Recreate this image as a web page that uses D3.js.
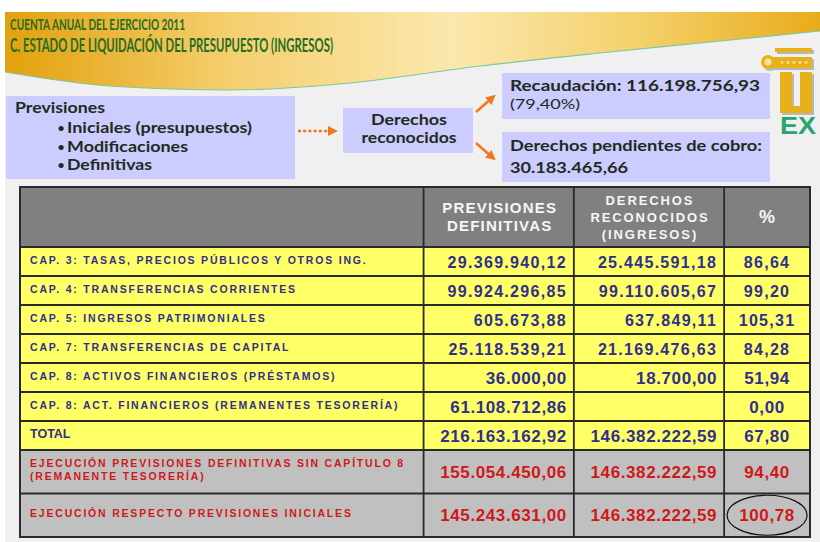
<!DOCTYPE html>
<html>
<head>
<meta charset="utf-8">
<script src="https://cdn.jsdelivr.net/npm/d3@7"></script>
<style>
  body { margin: 0; background: #fff; }
  svg { display: block; }
</style>
</head>
<body>
<svg id="chart" width="820" height="542"></svg>
<script>
// Textos de la diapositiva
const titleLines = ["CUENTA ANUAL DEL EJERCICIO 2011", "C. ESTADO DE LIQUIDACIÓN DEL PRESUPUESTO (INGRESOS)"];
const previsionItems = ["Iniciales (presupuestos)", "Modificaciones", "Definitivas"];
const recaudacion = 116198756.93;
const recaudacionPct = 79.40;
const pendientes = 30183465.66;

// Tabla
const columnHeaders = [[], ["PREVISIONES", "DEFINITIVAS"], ["DERECHOS", "RECONOCIDOS", "(INGRESOS)"], ["%"]];
const rowLabels = [
  ["CAP. 3: TASAS,  PRECIOS PÚBLICOS Y OTROS ING."],
  ["CAP. 4: TRANSFERENCIAS  CORRIENTES"],
  ["CAP. 5: INGRESOS PATRIMONIALES"],
  ["CAP. 7: TRANSFERENCIAS  DE CAPITAL"],
  ["CAP. 8: ACTIVOS  FINANCIEROS  (PRÉSTAMOS)"],
  ["CAP. 8: ACT. FINANCIEROS  (REMANENTES TESORERÍA)"],
  ["TOTAL"],
  ["EJECUCIÓN PREVISIONES DEFINITIVAS  SIN  CAPÍTULO 8", "(REMANENTE TESORERÍA)"],
  ["EJECUCIÓN RESPECTO PREVISIONES INICIALES"]
];
const rowTypes = ["cap", "cap", "cap", "cap", "cap", "cap", "total", "ejec", "ejec"];
const previsiones = [29369940.12, 99924296.85, 605673.88, 25118539.21, 36000.00, 61108712.86, 216163162.92, 155054450.06, 145243631.00];
const derechos = [25445591.18, 99110605.67, 637849.11, 21169476.63, 18700.00, null, 146382222.59, 146382222.59, 146382222.59];
const porcentajes = [86.64, 99.20, 105.31, 84.28, 51.94, 0.00, 67.80, 94.40, 100.78];
const circledRow = 8;

const es = d3.formatLocale({decimal: ",", thousands: ".", grouping: [3], currency: ["", ""]});
const fmtMoney = es.format(",.2f");
const fmtPct = es.format(".2f");

const svg = d3.select("#chart");
const defs = svg.append("defs");

// fondo de la diapositiva
svg.append("rect").attr("x", 5).attr("y", 12).attr("width", 815).attr("height", 530).attr("fill", "#f0f0f0");

// banda dorada con borde ondulado
const grad = defs.append("linearGradient").attr("id", "gold").attr("x1", 0).attr("x2", 1).attr("y1", 0).attr("y2", 0);
[["0%", "#e3a10c"], ["28%", "#f5cf70"], ["55%", "#fbe8ae"], ["78%", "#f4d06a"], ["100%", "#e8ac1a"]]
  .forEach(([o, c]) => grad.append("stop").attr("offset", o).attr("stop-color", c));

const wave = [[5, 72], [110, 86], [230, 90], [350, 83], [480, 66], [600, 53], [700, 43], [820, 31]];
const waveLine = d3.line().curve(d3.curveMonotoneX);
svg.append("path")
  .attr("d", "M5,12 L820,12 L820,31 " + waveLine(wave.slice().reverse()).replace(/^M/, "L") + " Z")
  .attr("fill", "url(#gold)");
svg.append("path").attr("d", waveLine(wave)).attr("fill", "none").attr("stroke", "#7cc8a0").attr("stroke-width", 1.2);

function fit(sel, w) {
  return sel.attr("textLength", w).attr("lengthAdjust", "spacingAndGlyphs");
}

const titleFont = "Lato, 'Open Sans', sans-serif";
fit(svg.append("text").attr("x", 10).attr("y", 30).text(titleLines[0]), 175)
  .attr("font-family", titleFont).attr("font-weight", 700).attr("font-size", 15).attr("fill", "#1f6e22");
fit(svg.append("text").attr("x", 10).attr("y", 52).text(titleLines[1]), 323)
  .attr("font-family", titleFont).attr("font-weight", 700).attr("font-size", 18).attr("fill", "#1f6e22");

// cajas lavanda
const boxFill = "#ccccff";
const boxText = "#1e2b1e";
function box(x, y, w, h) {
  svg.append("rect").attr("x", x).attr("y", y).attr("width", w).attr("height", h).attr("fill", boxFill);
}
function label(x, y, txt, w, size, weight, anchor) {
  return fit(svg.append("text").attr("x", x).attr("y", y).text(txt), w)
    .attr("font-family", titleFont).attr("font-size", size).attr("font-weight", weight || 700)
    .attr("text-anchor", anchor || "start").attr("fill", boxText);
}

box(6, 96, 289, 83);
label(15, 113, "Previsiones", 90, 15);
previsionItems.forEach((t, i) => {
  const widths = [185, 121, 85];
  svg.append("text").attr("x", 57).attr("y", 133 + i * 18.5).text("•")
    .attr("font-family", titleFont).attr("font-size", 14).attr("fill", boxText);
  label(67, 133 + i * 18.5, t, widths[i], 15);
});

box(343, 108, 130, 45);
label(409, 125, "Derechos", 76, 14.5, 700, "middle");
label(409, 143, "reconocidos", 95, 14.5, 700, "middle");

box(502, 73, 268, 46);
label(510, 91, "Recaudación: " + fmtMoney(recaudacion), 250, 16);
label(510, 109, "(" + fmtPct(recaudacionPct) + "%)", 70, 14, 400);

box(502, 132, 268, 50);
label(510, 151, "Derechos pendientes de cobro:", 252, 15);
label(510, 173, fmtMoney(pendientes), 118, 16);

// flechas naranjas
const orange = "#f27522";
defs.append("marker").attr("id", "arr").attr("viewBox", "0 0 10 10").attr("refX", 5).attr("refY", 5)
  .attr("markerWidth", 4).attr("markerHeight", 4).attr("orient", "auto")
  .append("path").attr("d", "M0,0 L10,5 L0,10 Z").attr("fill", orange);
svg.append("line").attr("x1", 298).attr("y1", 131).attr("x2", 333).attr("y2", 131)
  .attr("stroke", orange).attr("stroke-width", 2.5).attr("stroke-dasharray", "3,2.2").attr("marker-end", "url(#arr)");
svg.append("line").attr("x1", 476).attr("y1", 112).attr("x2", 492).attr("y2", 98)
  .attr("stroke", orange).attr("stroke-width", 2.5).attr("marker-end", "url(#arr)");
svg.append("line").attr("x1", 476).attr("y1", 143).attr("x2", 492).attr("y2", 157)
  .attr("stroke", orange).attr("stroke-width", 2.5).attr("marker-end", "url(#arr)");

// logotipo UEX
const logo = svg.append("g");
const logoGold = "#e8b11c";
[[2, 2, "#b8b8b8"], [0, 0, logoGold]].forEach(([dx, dy, c]) => {
  const g = logo.append("g").attr("transform", `translate(${dx},${dy})`);
  g.append("rect").attr("x", 775).attr("y", 48).attr("width", 37).attr("height", 4).attr("fill", c);
  g.append("rect").attr("x", 768).attr("y", 57).attr("width", 44).attr("height", 11).attr("fill", c);
  g.append("circle").attr("cx", 768).attr("cy", 62).attr("r", 7).attr("fill", c);
  g.append("path").attr("d", "M780,72 H792 V106 H800 V72 H812 V113 H780 Z").attr("fill", c);
});
logo.append("circle").attr("cx", 768).attr("cy", 62).attr("r", 3.5).attr("fill", "#f6e3a0");
d3.range(5).forEach(i => logo.append("circle").attr("cx", 782 + i * 6).attr("cy", 62.5).attr("r", 1.4).attr("fill", "#f6e3a0"));
logo.append("text").attr("x", 798).attr("y", 134).attr("text-anchor", "middle").text("EX")
  .attr("font-family", "'Liberation Sans', Arial, sans-serif").attr("font-weight", 700).attr("font-size", 24)
  .attr("fill", "#2aa36c").call(s => fit(s, 36));

// tabla
const tableTop = 187, headerBottom = 247, tableBottom = 537;
const colWeights = [4.7, 1.75, 1.75, 1];
const colCum = [0, ...d3.cumsum(colWeights)];
const x = d3.scaleLinear().domain([0, colCum[colCum.length - 1]]).range([20, 810]);
const rowWeights = rowTypes.map(t => t === "ejec" ? 1.5 : 1);
const rowCum = [0, ...d3.cumsum(rowWeights)];
const y = d3.scaleLinear().domain([0, rowCum[rowCum.length - 1]]).range([headerBottom, tableBottom]);

const tableFont = "'Liberation Sans', Arial, sans-serif";
const blue = "#2f2f8e";
const red = "#d01818";

svg.append("rect").attr("x", x(0)).attr("y", tableTop).attr("width", x(colCum[4]) - x(0))
  .attr("height", headerBottom - tableTop).attr("fill", "#808080");

const rows = svg.append("g").selectAll("g").data(rowLabels).join("g");
rows.append("rect")
  .attr("x", x(0)).attr("y", (d, i) => y(rowCum[i]))
  .attr("width", x(colCum[4]) - x(0)).attr("height", (d, i) => y(rowCum[i + 1]) - y(rowCum[i]))
  .attr("fill", (d, i) => rowTypes[i] === "ejec" ? "#c0c0c0" : "#ffff66");

// cabeceras
columnHeaders.forEach((lines, c) => {
  const cx = (x(colCum[c]) + x(colCum[c + 1])) / 2;
  const size = c === 1 ? 15 : c === 2 ? 13 : 18;
  const lh = c === 1 ? 18 : 17;
  const mid = (tableTop + headerBottom) / 2;
  lines.forEach((t, k) => {
    svg.append("text").attr("x", cx + (c === 3 ? 0 : 1)).attr("y", mid + (k - (lines.length - 1) / 2) * lh + size * 0.36)
      .attr("text-anchor", "middle").text(t)
      .attr("font-family", tableFont).attr("font-weight", 700).attr("font-size", size)
      .attr("letter-spacing", c === 3 ? 0 : (c === 1 ? 1.2 : 1.9)).attr("fill", "#f6f6f6");
  });
});

// etiquetas de filas
rows.each(function(lines, i) {
  const g = d3.select(this);
  const top = y(rowCum[i]), bot = y(rowCum[i + 1]);
  const mid = (top + bot) / 2;
  const col = rowTypes[i] === "ejec" ? red : blue;
  const size = rowTypes[i] === "total" ? 12.5 : 10.5;
  lines.forEach((t, k) => {
    g.append("text").attr("x", x(0) + 10)
      .attr("y", mid + (k - (lines.length - 1) / 2) * 13 + 2)
      .text(t)
      .attr("font-family", tableFont).attr("font-weight", 700).attr("font-size", size)
      .attr("letter-spacing", rowTypes[i] === "total" ? 0 : 1.8).attr("fill", col);
  });
  const vsize = rowTypes[i] === "cap" && i < 4 ? 16 : 17;
  const vals = [previsiones[i], derechos[i]];
  vals.forEach((v, c) => {
    if (v == null) return;
    g.append("text").attr("x", x(colCum[c + 2]) - 7).attr("y", mid + 6)
      .attr("text-anchor", "end").text(fmtMoney(v))
      .attr("font-family", tableFont).attr("font-weight", 700).attr("font-size", vsize)
      .attr("letter-spacing", i < 4 ? 1.3 : 0.6).attr("fill", col);
  });
  g.append("text").attr("x", (x(colCum[3]) + x(colCum[4])) / 2).attr("y", mid + 6)
    .attr("text-anchor", "middle").text(fmtPct(porcentajes[i]))
    .attr("font-family", tableFont).attr("font-weight", 700).attr("font-size", vsize)
    .attr("letter-spacing", i < 4 ? 1.3 : 0.6).attr("fill", col);
});

// rejilla
const grid = svg.append("g").attr("stroke", "#2a2a2a").attr("fill", "none");
rowCum.slice(0, -1).forEach(r => grid.append("line").attr("x1", x(0)).attr("x2", x(colCum[4]))
  .attr("y1", y(r)).attr("y2", y(r)).attr("stroke-width", 1.8));
colCum.slice(1, -1).forEach(c => grid.append("line").attr("x1", x(c)).attr("x2", x(c))
  .attr("y1", tableTop).attr("y2", tableBottom).attr("stroke-width", 1.8));
grid.append("rect").attr("x", x(0)).attr("y", tableTop).attr("width", x(colCum[4]) - x(0))
  .attr("height", tableBottom - tableTop).attr("stroke-width", 2);

// círculo sobre el último porcentaje
svg.append("ellipse")
  .attr("cx", (x(colCum[3]) + x(colCum[4])) / 2)
  .attr("cy", (y(rowCum[circledRow]) + y(rowCum[circledRow + 1])) / 2)
  .attr("rx", 40).attr("ry", 20).attr("fill", "none").attr("stroke", "#111").attr("stroke-width", 1.2);
</script>
</body>
</html>
